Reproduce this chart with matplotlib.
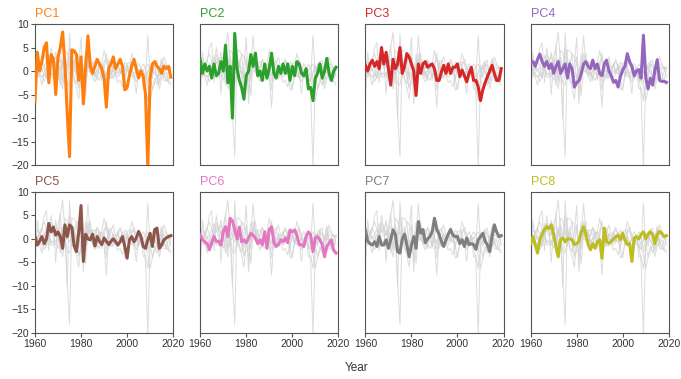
import matplotlib
matplotlib.use('Agg')
import matplotlib.pyplot as plt

plt.rcParams['font.family'] = ['Liberation Sans', 'DejaVu Sans']

years = list(range(1960, 2020))

pc1 = [-6.5, 4.0, 0.0, 2.0, 5.0, 6.0, -2.5, 3.5, 2.5, -5.0,
       3.0, 5.0, 8.3, 1.5, -9.0, -18.2, 4.5, 4.3, 3.5, -2.0,
       3.0, -7.0, 1.0, 7.5, 1.0, -0.5, 1.0, 2.5, 1.5, 0.5,
       -1.5, -7.7, 0.5, 1.5, 3.0, 0.5, 1.5, 2.5, 1.0, -4.0,
       -3.5, -1.0, 1.0, 2.5, 0.5, -1.5, 0.0, -1.0, -5.0, -20.5,
       -1.5, 1.5, 2.0, 1.0, 0.5, -0.5, 1.0, 0.5, 1.0, -1.3]
pc2 = [2.5, -0.5, 1.5, 0.0, 1.0, -1.5, 1.5, -1.0, -0.5, 2.0,
       0.0, 5.5, -2.5, 1.0, -10.0, 8.0, 0.5, -2.0, -3.5, -6.0,
       -1.0, 0.0, 3.5, 1.0, 3.8, -1.0, 0.0, -2.0, 1.5, -1.5,
       0.5, 3.8, -0.5, -1.5, 1.0, -0.5, 1.5, -0.5, 1.5, -2.0,
       1.0, -1.0, 2.0, 1.5, -0.5, -1.0, 0.5, -3.8, -3.5, -6.3,
       -1.5, -0.5, 1.5, -1.5, 0.0, 2.7, -0.5, -2.0, 0.0, 0.8]
pc3 = [1.2, 0.0, 1.5, 2.3, 1.0, 2.0, 0.5, 5.0, 1.5, 4.0,
       0.5, -3.0, 2.5, 0.5, 1.5, 5.0, -0.5, 1.0, 3.7, 3.0,
       1.5, 0.0, -5.2, 1.5, -0.5, 1.5, 2.0, 0.8, 1.2, 1.5,
       0.5, -2.0, -2.0, -0.2, 1.2, -0.5, 1.5, -0.5, 0.8, 0.8,
       1.5, -1.2, 0.2, -1.0, -2.3, -0.5, 0.8, -2.0, -2.0, -3.4,
       -6.3, -4.0, -2.5, -1.2, 0.0, 1.2, -0.5, -2.0, -2.0, 0.5]
pc4 = [1.6, 2.0, 1.0, 2.5, 3.6, 2.0, 1.0, 2.0, 0.5, 1.5,
       -0.5, 1.0, 2.0, -0.5, 0.5, 1.5, -1.5, 1.5, 0.5, -3.4,
       -2.5, -2.0, -0.5, 1.5, 2.0, 1.0, 0.5, 2.3, 0.5, 1.5,
       -0.5, -1.0, 1.5, 2.3, 0.0, -1.0, -2.4, -2.0, -3.4, -1.2,
       0.2, 1.0, 3.7, 2.0, 1.0, -1.0, 0.0, 0.3, -1.5, 7.6,
       -1.3, -3.8, -1.5, -3.0, 0.2, 2.4, -2.0, -2.2, -2.2, -2.4]
pc5 = [0.5, -1.3, -0.5, 0.5, -1.0, 0.0, 3.3, 1.5, 2.5, 0.8,
       1.5, 0.5, -2.0, 3.0, 0.5, 3.0, 2.5, -1.5, -2.7, 1.5,
       7.1, -4.8, 1.0, 0.0, -0.2, 1.0, -1.5, 0.5, -0.5, -1.2,
       0.2, -0.5, -1.2, -0.5, 0.0, -0.6, -1.3, -0.6, 0.5, -1.6,
       -4.1, -0.2, 0.5, -0.6, 0.2, 1.6, 0.5, -1.6, -2.0, -0.2,
       1.2, -1.6, 2.0, 2.3, -2.0, -1.3, -0.2, 0.2, 0.5, 0.7]
pc6 = [0.9, -0.2, -0.6, -1.0, -2.3, -0.8, 0.5, -0.5, -0.5, -1.3,
       1.5, 2.6, 0.5, 4.4, 3.8, 2.0, 0.0, 2.5, -0.6, -0.2,
       -0.8, 0.2, 1.2, 0.8, 0.2, -1.0, -0.2, -1.2, 1.5, -2.0,
       2.0, 2.6, -0.8, -1.6, -1.2, -0.2, -0.6, 0.2, -0.8, 1.9,
       1.5, 1.9, 0.8, -1.2, -1.2, -1.6, 0.5, 1.5, 0.8, -2.7,
       0.2, 0.5, -0.2, -1.2, -3.8, -1.6, -0.9, -0.2, -2.5, -3.0]
pc7 = [1.9, -0.5, -1.0, -1.3, -0.6, -1.6, 0.5, -1.3, -1.3, -0.2,
       -2.0, -0.2, 1.9, 1.0, -2.7, -3.0, 0.0, 1.0, -1.3, -3.8,
       -1.3, 0.5, -2.0, 3.7, 1.2, 2.0, -0.8, 0.0, 0.5, 1.5,
       4.4, 2.0, 1.0, -0.5, -1.6, -0.2, 1.0, 2.0, 0.8, 0.5,
       0.5, -1.0, -0.2, -1.6, 0.2, -1.2, -1.0, -1.2, -2.2, -0.2,
       0.5, 1.2, -0.5, -1.3, -2.7, 0.5, 3.0, 1.5, 0.5, 0.7]
pc8 = [-1.0, 0.5, -1.2, -3.0, -0.2, 1.0, 2.0, 2.6, 2.2, 3.0,
       1.0, -1.6, -3.8, -0.2, 0.2, -0.6, 0.0, 0.0, -0.2, -1.2,
       -1.0, -0.5, 1.5, 2.6, 1.0, -1.2, -2.3, -1.0, -2.0, -0.6,
       -0.2, -4.1, 2.3, -0.5, -0.9, -0.6, 0.0, 0.5, 0.8, -0.2,
       1.2, -0.2, -1.2, -1.0, -4.8, 0.2, 0.5, 0.0, 1.0, 1.5,
       0.0, 1.0, 1.5, 1.0, -1.0, 1.0, 1.6, 1.2, 0.5, 0.7]

names = ['PC1', 'PC2', 'PC3', 'PC4', 'PC5', 'PC6', 'PC7', 'PC8']
series = [pc1, pc2, pc3, pc4, pc5, pc6, pc7, pc8]
colors = ['#ff7f0e', '#2ca02c', '#d62728', '#9467bd',
          '#8c564b', '#e377c2', '#7f7f7f', '#bcbd22']
xticks = [1960, 1980, 2000, 2020]
yticks = [-20, -15, -10, -5, 0, 5, 10]

fig, axes = plt.subplots(2, 4, figsize=(6.81, 3.79), dpi=100,
                         sharex=True, sharey=True)
fig.subplots_adjust(left=0.0514, right=0.982, top=0.9367, bottom=0.1214,
                    wspace=0.196, hspace=0.19)

for i, ax in enumerate(axes.flat):
    for s in series:
        ax.plot(years, s, color='#d3d3d3', lw=0.7, alpha=0.8, zorder=1)
    ax.plot(years, series[i], color=colors[i], lw=2.2, zorder=3)
    ax.set_title(names[i], loc='left', color=colors[i], fontsize=9, pad=5)
    ax.set_xlim(1960, 2020)
    ax.set_ylim(-20, 10)
    ax.set_xticks(xticks)
    ax.set_yticks(yticks)
    for sp in ax.spines.values():
        sp.set_color('#555555')
        sp.set_linewidth(0.8)
    ax.tick_params(labelsize=7.5, color='#555555', labelcolor='#333333',
                   length=3, width=0.8, pad=1.5)
    row, col = divmod(i, 4)
    if row == 0:
        ax.tick_params(bottom=False)
    if col != 0:
        ax.tick_params(left=False)

fig.text(0.524, 0.012, 'Year', ha='center', va='bottom', fontsize=8.5,
         color='#333333')

fig.savefig('out.png', dpi=100)
